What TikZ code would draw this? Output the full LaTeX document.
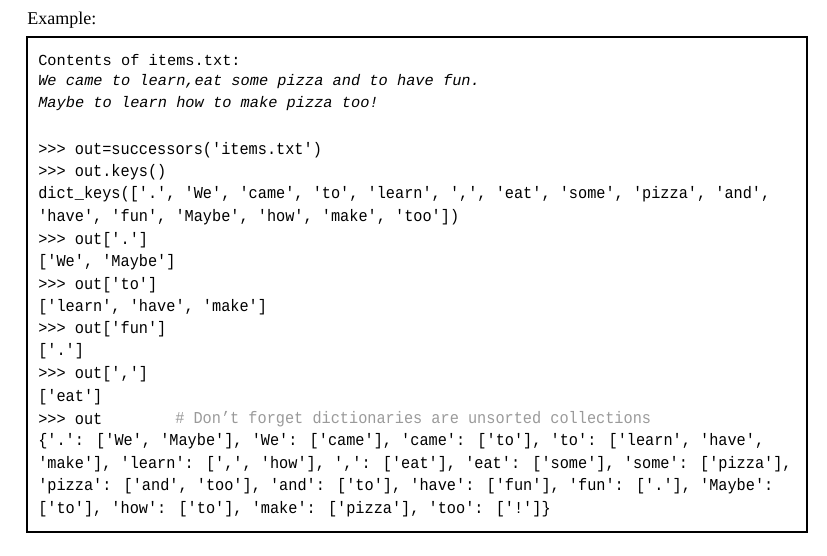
\documentclass[tikz,border=0pt]{standalone}
\usepackage{fontspec}
\setmainfont{Liberation Serif}
\newfontfamily\monof[Ligatures=TeXOff]{Liberation Mono}
\newfontfamily\codef[Ligatures=TeXOff,FakeStretch=0.915]{Liberation Mono}
\definecolor{cmt}{HTML}{9A9A9A}
\begin{document}
\begin{tikzpicture}[x=0.75pt,y=-0.75pt,
  mono/.style={anchor=west,inner sep=0,font=\monof\fontsize{11.5}{13}\selectfont},
  monoit/.style={mono,font=\monof\itshape\fontsize{11.5}{13}\selectfont},
  code/.style={anchor=west,inner sep=0,font=\codef\fontsize{12.5}{14}\selectfont}]
\useasboundingbox (0,0) rectangle (827,556);
\node[anchor=west,inner sep=0,font=\fontsize{13.5}{16}\selectfont] (ex) at (27,20) {Example:};
\draw[line width=1.5pt] (27,37) rectangle (807,532);
\node[mono] (l1) at (38,60) {Contents of items.txt:};
\node[monoit] (l2) at (38,82) {We came to learn,eat some pizza and to have fun.};
\node[monoit] (l3) at (38,104) {Maybe to learn how to make pizza too!};
\node[code] (l4) at (38,150) {>>> out=successors('items.txt')};
\node[code] (l5) at (38,172) {>>> out.keys()};
\node[code] (l6) at (38,194) {dict\_keys(['.', 'We', 'came', 'to', 'learn', ',', 'eat', 'some', 'pizza', 'and',};
\node[code] (l7) at (38,217) {'have', 'fun', 'Maybe', 'how', 'make', 'too'])};
\node[code] (l8) at (38,240) {>>> out['.']};
\node[code] (l9) at (38,262) {['We', 'Maybe']};
\node[code] (l10) at (38,285) {>>> out['to']};
\node[code] (l11) at (38,307) {['learn', 'have', 'make']};
\node[code] (l12) at (38,329) {>>> out['fun']};
\node[code] (l13) at (38,351) {['.']};
\node[code] (l14) at (38,374) {>>> out[',']};
\node[code] (l15) at (38,397) {['eat']};
\node[code] (l16) at (38,419) {>>> out};
\node[code,text=cmt] (c16) at (175,419) {\# Don’t forget dictionaries are unsorted collections};
\node[code] (l17) at (38,441) {\{'.': ['We', 'Maybe'], 'We': ['came'], 'came': ['to'], 'to': ['learn', 'have',};
\node[code] (l18) at (38,464) {'make'], 'learn': [',', 'how'], ',': ['eat'], 'eat': ['some'], 'some': ['pizza'],};
\node[code] (l19) at (38,486) {'pizza': ['and', 'too'], 'and': ['to'], 'have': ['fun'], 'fun': ['.'], 'Maybe':};
\node[code] (l20) at (38,509) {['to'], 'how': ['to'], 'make': ['pizza'], 'too': ['!']\}};
\end{tikzpicture}
\end{document}
